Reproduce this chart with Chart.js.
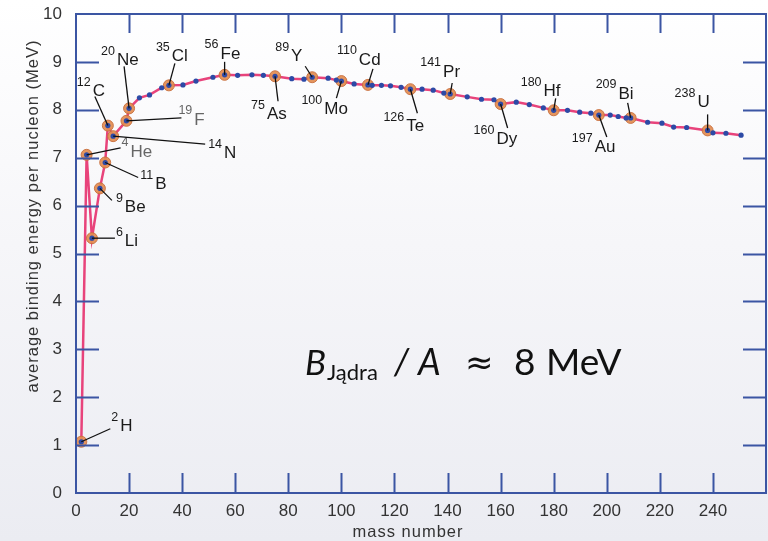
<!DOCTYPE html>
<html>
<head>
<meta charset="utf-8">
<script src="https://cdn.jsdelivr.net/npm/chart.js"></script>
<style>
  html, body { margin: 0; padding: 0; background: #fff; }
  #wrap { width: 768px; height: 541px; position: relative; }
</style>
</head>
<body>
<div id="wrap"><canvas id="bindingChart" width="768" height="541"></canvas></div>
<script>
// named nuclides (mass number + binding energy per nucleon, MeV)
const nuclideSymbols = ['H', 'He', 'Li', 'Be', 'B', 'C', 'N', 'F', 'Ne', 'Cl', 'Fe', 'As', 'Y', 'Mo', 'Cd', 'Te', 'Pr', 'Dy', 'Hf', 'Au', 'Bi', 'U'];
const nuclideMass = [2, 4, 6, 9, 11, 12, 14, 19, 20, 35, 56, 75, 89, 100, 110, 126, 141, 160, 180, 197, 209, 238];
const nuclideEnergy = [1.07, 7.06, 5.32, 6.36, 6.90, 7.67, 7.45, 7.77, 8.03, 8.51, 8.73, 8.70, 8.68, 8.60, 8.52, 8.43, 8.33, 8.12, 7.99, 7.89, 7.83, 7.57];

// unlabelled points along the curve
const curveMass = [23.9, 27.7, 32.3, 40.3, 45.2, 51.6, 60.9, 66.3, 70.6, 81.3, 85.9, 95.0, 98.1, 104.8, 111.6, 115.1, 118.5, 122.5, 130.4, 134.6, 138.6, 147.4, 152.8, 157.5, 165.9, 170.8, 176.1, 185.2, 189.8, 194.0, 201.3, 204.3, 207.3, 215.4, 220.8, 225.2, 230.1, 240.0, 244.9, 250.6];
const curveEnergy = [8.25, 8.31, 8.46, 8.52, 8.60, 8.68, 8.72, 8.73, 8.72, 8.65, 8.64, 8.66, 8.62, 8.54, 8.51, 8.51, 8.50, 8.47, 8.43, 8.41, 8.35, 8.27, 8.22, 8.21, 8.16, 8.11, 8.04, 7.99, 7.95, 7.93, 7.89, 7.86, 7.83, 7.74, 7.72, 7.64, 7.63, 7.52, 7.51, 7.47];

const xTicks = [0, 20, 40, 60, 80, 100, 120, 140, 160, 180, 200, 220, 240];
const yTicks = [0, 1, 2, 3, 4, 5, 6, 7, 8, 9, 10];

// label layout per nuclide, px relative to the point:
// [leader end dx, leader end dy, superscript left dx, superscript mid dy]
const labelLayout = {
  H:  [29, -13, 30, -24],
  He: [34, -7, 35, -12],
  Li: [23, 0, 24, -6],
  Be: [12, 12, 16, 10],
  B:  [33, 15, 35, 13],
  C:  [-13, -29, -31, -43],
  N:  [92, 8, 95, 8],
  F:  [55, -3, 52, -10],
  Ne: [-5, -42, -28, -57],
  Cl: [6, -22, -13, -38],
  Fe: [0, -13, -20, -30],
  As: [3, 25, -24, 29],
  Y:  [-7, -11, -37, -30],
  Mo: [-5, 17, -40, 19],
  Cd: [5, -16, -31, -34],
  Te: [7, 24, -27, 28],
  Pr: [2, -11, -30, -31],
  Dy: [7, 24, -27, 26],
  Hf: [2, -12, -33, -28],
  Au: [8, 22, -27, 23],
  Bi: [-3, -15, -35, -33],
  U:  [0, -16, -33, -37]
};
const greyLabels = ['He', 'F'];

const named = nuclideMass.map((a, i) => ({ x: a, y: nuclideEnergy[i] }));
const allPoints = named
  .concat(curveMass.map((a, i) => ({ x: a, y: curveEnergy[i] })))
  .sort((p, q) => p.x - q.x);

const FRAME = '#3b55a3';
const FONT = "'Liberation Sans', sans-serif";
const PLOT_RIGHT = 766;

// gradient page background behind the plot
const backgroundPlugin = {
  id: 'bg',
  beforeDraw(chart) {
    const ctx = chart.ctx;
    const g = ctx.createLinearGradient(0, 0, 0, chart.height);
    g.addColorStop(0, '#ffffff');
    g.addColorStop(0.45, '#f6f6f9');
    g.addColorStop(1, '#ebecf2');
    ctx.save();
    ctx.fillStyle = g;
    ctx.fillRect(0, 0, chart.width, chart.height);
    ctx.restore();
  }
};

// stretch the plot box out to the right edge of the canvas
const rightEdgePlugin = {
  id: 'rightEdge',
  afterLayout(chart) {
    const x = chart.scales.x;
    chart.chartArea.right = PLOT_RIGHT;
    chart.chartArea.width = PLOT_RIGHT - chart.chartArea.left;
    x.right = PLOT_RIGHT;
    x.width = PLOT_RIGHT - x.left;
    x.configure();
  }
};

// box frame with inward tick marks on all four sides
const framePlugin = {
  id: 'frame',
  afterDraw(chart) {
    const { ctx, chartArea: a, scales } = chart;
    ctx.save();
    ctx.strokeStyle = FRAME;
    ctx.lineWidth = 2;
    ctx.strokeRect(a.left, a.top, a.right - a.left, a.bottom - a.top);
    ctx.beginPath();
    xTicks.forEach(v => {
      if (v === 0) return;
      const px = Math.round(scales.x.getPixelForValue(v)) + 0.5;
      ctx.moveTo(px, a.top); ctx.lineTo(px, a.top + 19);
      ctx.moveTo(px, a.bottom); ctx.lineTo(px, a.bottom - 20);
    });
    yTicks.forEach(v => {
      if (v === 0 || v === 10) return;
      const py = Math.round(scales.y.getPixelForValue(v)) + 0.5;
      ctx.moveTo(a.left, py); ctx.lineTo(a.left + 23, py);
      ctx.moveTo(a.right, py); ctx.lineTo(a.right - 23, py);
    });
    ctx.stroke();

    // axis titles
    ctx.fillStyle = '#333';
    ctx.font = '16.5px ' + FONT;
    ctx.letterSpacing = '1px';
    ctx.textAlign = 'center';
    ctx.textBaseline = 'middle';
    ctx.fillText('mass number', 408, 532);
    ctx.translate(33, 216);
    ctx.rotate(-Math.PI / 2);
    ctx.fillText('average binding energy per nucleon (MeV)', 0, 0);
    ctx.restore();
  }
};

// nuclide names with mass-number superscripts and leader lines
const labelPlugin = {
  id: 'nuclideLabels',
  afterDatasetsDraw(chart) {
    const ctx = chart.ctx;
    const meta = chart.getDatasetMeta(1);
    ctx.save();
    meta.data.forEach((pt, i) => {
      const sym = nuclideSymbols[i];
      const [lx, ly, tx, ty] = labelLayout[sym];
      ctx.strokeStyle = '#111';
      ctx.lineWidth = 1.3;
      ctx.beginPath();
      ctx.moveTo(pt.x, pt.y);
      ctx.lineTo(pt.x + lx, pt.y + ly);
      ctx.stroke();

      const col = greyLabels.includes(sym) ? '#666' : '#1a1a1a';
      ctx.fillStyle = col;
      ctx.textAlign = 'left';
      ctx.textBaseline = 'middle';
      ctx.font = '12.5px ' + FONT;
      const sup = String(nuclideMass[i]);
      ctx.fillText(sup, pt.x + tx, pt.y + ty);
      const w = ctx.measureText(sup).width;
      ctx.font = '17px ' + FONT;
      ctx.fillText(sym, pt.x + tx + w + 2, pt.y + ty + 9);
    });
    ctx.restore();
  }
};

// B_Jądra / A ≈ 8 MeV
const formulaPlugin = {
  id: 'formula',
  afterDraw(chart) {
    const ctx = chart.ctx;
    const f = "Lato, 'Open Sans', sans-serif";
    ctx.save();
    ctx.fillStyle = '#111';
    ctx.textAlign = 'left';
    ctx.textBaseline = 'alphabetic';
    ctx.font = 'italic 35px ' + f;
    ctx.fillText('B', 305, 375);
    ctx.font = '22px ' + f;
    ctx.fillText('Jądra', 327, 380);
    ctx.font = 'italic 36px ' + f;
    ctx.fillText('/', 394, 375);
    ctx.fillText('A', 418, 375);
    ctx.font = "34px 'DejaVu Sans', sans-serif";
    ctx.fillText('≈', 465, 374);
    ctx.font = '37px ' + f;
    ctx.fillText('8', 514, 375);
    ctx.fillText('MeV', 546, 375);
    ctx.restore();
  }
};

// drop the label overhang padding so the plot box sits where the layout says
const trimPadding = s => {
  s.paddingTop = 0; s.paddingBottom = 0; s.paddingLeft = 0; s.paddingRight = 0;
};

new Chart(document.getElementById('bindingChart'), {
  type: 'scatter',
  data: {
    datasets: [
      {
        // connecting curve
        data: allPoints,
        showLine: true,
        borderColor: '#e8437b',
        borderWidth: 2.5,
        pointRadius: 0,
        order: 3
      },
      {
        // named nuclides
        data: named,
        pointRadius: 5.5,
        pointBackgroundColor: 'rgba(226,140,80,0.92)',
        pointBorderColor: 'rgba(200,110,60,0.9)',
        pointBorderWidth: 1,
        order: 2
      },
      {
        // small blue markers on every point
        data: allPoints,
        pointRadius: 2.6,
        pointBackgroundColor: '#2d4aa6',
        pointBorderWidth: 0,
        order: 1
      }
    ]
  },
  options: {
    responsive: false,
    animation: false,
    layout: { padding: { top: 14, right: 2, left: 0, bottom: 0 } },
    plugins: {
      legend: { display: false },
      tooltip: { enabled: false }
    },
    scales: {
      x: {
        type: 'linear',
        min: 0,
        max: 260,
        afterBuildTicks: s => { s.ticks = xTicks.map(v => ({ value: v })); },
        afterFit: s => { s.height = 48; trimPadding(s); },
        grid: { display: false, drawTicks: false },
        border: { display: false },
        ticks: { color: '#333', font: { size: 17, family: FONT }, padding: 8, maxRotation: 0 }
      },
      y: {
        min: 0,
        max: 10,
        afterBuildTicks: s => { s.ticks = yTicks.map(v => ({ value: v })); },
        afterFit: s => { s.width = 76; trimPadding(s); },
        grid: { display: false, drawTicks: false },
        border: { display: false },
        ticks: { color: '#333', font: { size: 17, family: FONT }, padding: 14 }
      }
    }
  },
  plugins: [backgroundPlugin, rightEdgePlugin, framePlugin, labelPlugin, formulaPlugin]
});
</script>
</body>
</html>
